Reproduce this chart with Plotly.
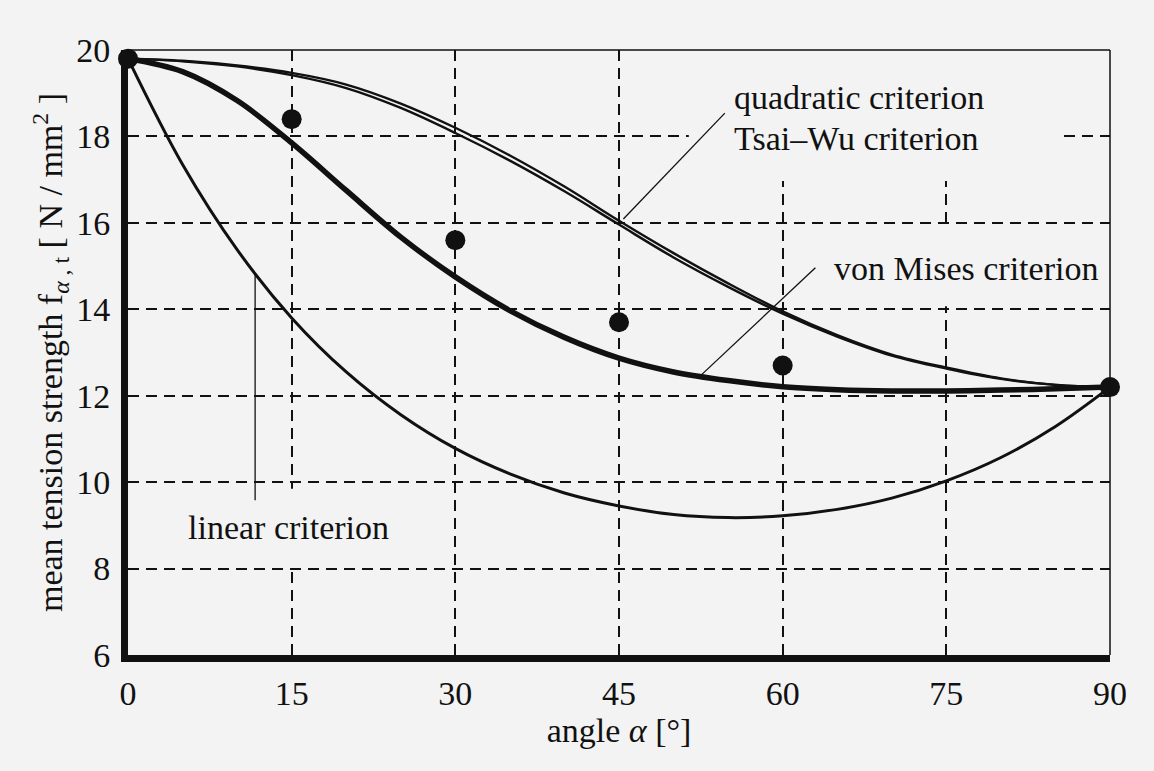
import plotly.graph_objects as go

# ---------------- data ----------------
angles = [0, 5, 10, 15, 20, 25, 30, 35, 40, 45, 50, 55, 60, 65, 70, 75, 80, 85, 90]

quadratic = [19.8, 19.75, 19.64, 19.47, 19.2, 18.76, 18.2, 17.56, 16.84, 16.05,
             15.3, 14.6, 13.95, 13.4, 12.95, 12.65, 12.4, 12.25, 12.2]
tsai_wu = [19.8, 19.74, 19.62, 19.42, 19.12, 18.66, 18.08, 17.44, 16.73, 15.96,
           15.2, 14.52, 13.9, 13.37, 12.93, 12.63, 12.39, 12.25, 12.2]
von_mises = [19.8, 19.5, 18.83, 17.85, 16.75, 15.67, 14.75, 13.97, 13.35, 12.87,
             12.55, 12.35, 12.21, 12.14, 12.11, 12.11, 12.13, 12.16, 12.2]
linear = [19.8, 17.35, 15.38, 13.8, 12.55, 11.56, 10.78, 10.19, 9.75, 9.45,
          9.25, 9.18, 9.22, 9.37, 9.63, 10.03, 10.57, 11.29, 12.2]

test_angles = [0, 15, 30, 45, 60, 90]
test_strength = [19.8, 18.4, 15.6, 13.7, 12.7, 12.2]

x_ticks = [0, 15, 30, 45, 60, 75, 90]
y_ticks = [6, 8, 10, 12, 14, 16, 18, 20]

# ---------------- style ----------------
BG = "#f3f3f3"
INK = "#111111"
FONT = "Liberation Serif"
FS = 34

fig = go.Figure()

def curve(y, width):
    fig.add_trace(go.Scatter(x=angles, y=y, mode="lines",
                             line=dict(color=INK, width=width, shape="spline", smoothing=1.0),
                             hoverinfo="skip", showlegend=False))

curve(linear, 3)
curve(von_mises, 5.5)
curve(quadratic, 2.4)
curve(tsai_wu, 2.4)

fig.add_trace(go.Scatter(x=test_angles, y=test_strength, mode="markers",
                         marker=dict(color=INK, size=20), showlegend=False,
                         cliponaxis=False))

shapes = []
# masks behind labels (hide gridlines, drawn between grid and traces)
for x0, x1, y0, y1 in [(51.4, 85.2, 16.97, 20.0), (61.5, 89.6, 14.07, 15.9), (4.5, 25.0, 8.06, 9.85)]:
    shapes.append(dict(type="rect", xref="x", yref="y", x0=x0, x1=x1, y0=y0, y1=y1,
                       fillcolor=BG, line=dict(width=0), layer="between"))
# leader lines
for x0, y0, x1, y1 in [(45.4, 16.09, 54.7, 18.54), (52.5, 12.47, 63.0, 14.96), (11.65, 14.84, 11.65, 9.58)]:
    shapes.append(dict(type="line", xref="x", yref="y", x0=x0, y0=y0, x1=x1, y1=y1,
                       line=dict(color=INK, width=1.3), layer="above"))
# thin top and right frame
shapes.append(dict(type="line", xref="paper", yref="paper", x0=0, x1=1, y0=1, y1=1,
                   line=dict(color=INK, width=1.5)))
shapes.append(dict(type="line", xref="paper", yref="paper", x0=1, x1=1, y0=0, y1=1,
                   line=dict(color=INK, width=1.5)))

annos = []
for txt, x, y in [("quadratic criterion", 55.4, 18.89), ("Tsai\u2013Wu criterion", 55.4, 17.96),
                  ("von Mises criterion", 64.5, 14.94), ("linear criterion", 5.3, 8.96)]:
    annos.append(dict(text=txt, x=x, y=y, xref="x", yref="y", xanchor="left", yanchor="middle",
                      showarrow=False, font=dict(family=FONT, size=FS, color=INK)))

fig.update_layout(
    width=1154, height=771,
    margin=dict(l=128, r=44, t=50, b=116),
    paper_bgcolor=BG, plot_bgcolor=BG,
    font=dict(family=FONT, size=FS, color=INK),
    showlegend=False,
    shapes=shapes, annotations=annos,
    xaxis=dict(range=[0, 90], tickvals=x_ticks, ticktext=[str(v) for v in x_ticks],
               showgrid=True, gridcolor=INK, griddash="11px,7px", gridwidth=1.6,
               showline=True, linecolor=INK, linewidth=7, zeroline=False,
               ticks="", ticklabelstandoff=2,
               title=dict(text="angle <i>\u03b1</i> [\u00b0]", standoff=10,
                          font=dict(family=FONT, size=FS, color=INK))),
    yaxis=dict(range=[6, 20], tickvals=y_ticks, ticktext=[str(v) for v in y_ticks],
               showgrid=True, gridcolor=INK, griddash="11px,7px", gridwidth=1.6,
               showline=True, linecolor=INK, linewidth=7, zeroline=False,
               ticks="", ticklabelstandoff=4,
               title=dict(text="mean tension strength f<sub><i>\u03b1</i> , t</sub> [ N / mm<sup>2</sup> ]",
                          standoff=6, font=dict(family=FONT, size=FS, color=INK))),
)

fig.write_html("out.html")
